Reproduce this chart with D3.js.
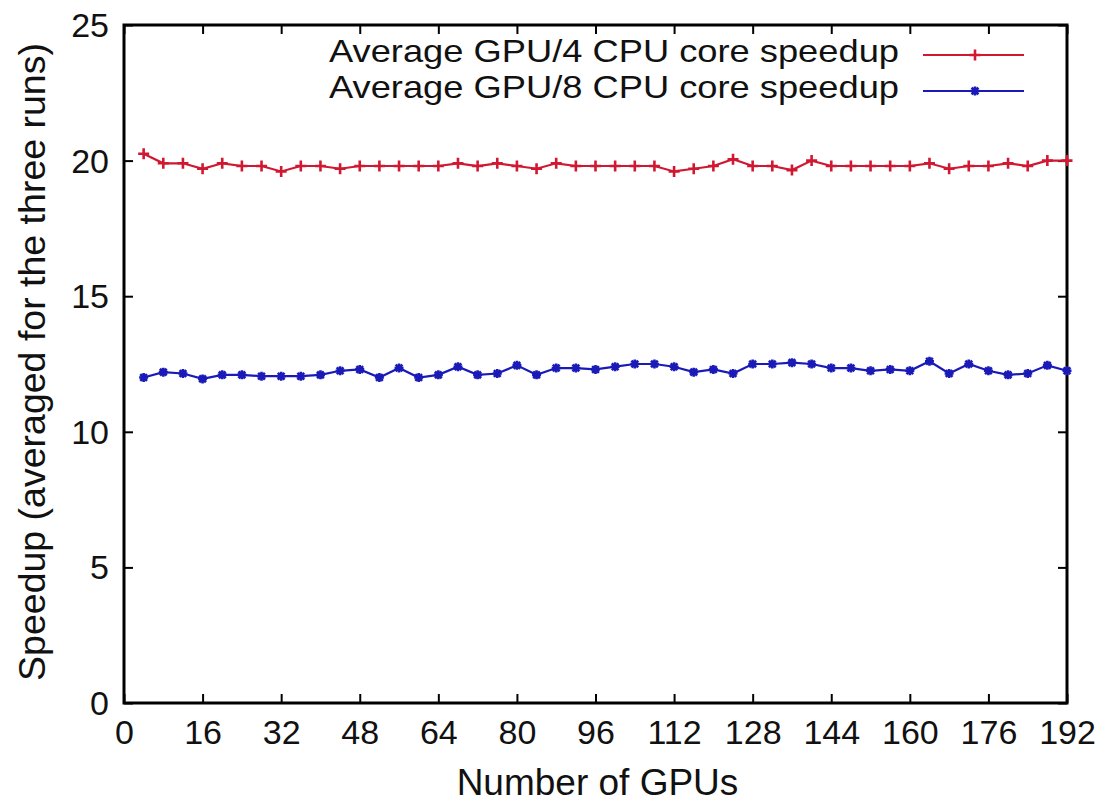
<!DOCTYPE html>
<html>
<head>
<meta charset="utf-8">
<script src="https://cdn.jsdelivr.net/npm/d3@7"></script>
<style>
  body { margin: 0; background: #fff; }
  text { font-family: "Liberation Sans", Arial, sans-serif; fill: #111; }
</style>
</head>
<body>
<svg id="chart" width="1105" height="804"></svg>
<script>
// Number of GPUs used in each run
const gpuCounts = [4, 8, 12, 16, 20, 24, 28, 32, 36, 40, 44, 48, 52, 56, 60, 64,
  68, 72, 76, 80, 84, 88, 92, 96, 100, 104, 108, 112, 116, 120, 124, 128,
  132, 136, 140, 144, 148, 152, 156, 160, 164, 168, 172, 176, 180, 184, 188, 192];

// Average GPU speedup over 4 CPU cores
const speedup4 = [20.25, 19.9, 19.9, 19.7, 19.9, 19.8, 19.8, 19.6, 19.8, 19.8, 19.7, 19.8,
  19.8, 19.8, 19.8, 19.8, 19.9, 19.8, 19.9, 19.8, 19.7, 19.9, 19.8, 19.8,
  19.8, 19.8, 19.8, 19.6, 19.7, 19.8, 20.05, 19.8, 19.8, 19.65, 20.0, 19.8,
  19.8, 19.8, 19.8, 19.8, 19.9, 19.7, 19.8, 19.8, 19.9, 19.8, 20.0, 20.0];

// Average GPU speedup over 8 CPU cores
const speedup8 = [12.0, 12.2, 12.15, 11.95, 12.1, 12.1, 12.05, 12.05, 12.05, 12.1, 12.25, 12.3,
  12.0, 12.35, 12.0, 12.1, 12.4, 12.1, 12.15, 12.45, 12.1, 12.35, 12.35, 12.3,
  12.4, 12.5, 12.5, 12.4, 12.2, 12.3, 12.15, 12.5, 12.5, 12.55, 12.5, 12.35,
  12.35, 12.25, 12.3, 12.25, 12.6, 12.15, 12.5, 12.25, 12.1, 12.15, 12.45, 12.25];

const seriesNames = ["Average GPU/4 CPU core speedup", "Average GPU/8 CPU core speedup"];
const xTickValues = [0, 16, 32, 48, 64, 80, 96, 112, 128, 144, 160, 176, 192];
const yTickValues = [0, 5, 10, 15, 20, 25];

const svg = d3.select("#chart");
const plot = { left: 124, right: 1067, top: 25, bottom: 703 };

const x = d3.scaleLinear().domain([0, 192]).range([plot.left, plot.right]);
const y = d3.scaleLinear().domain([0, 25]).range([plot.bottom, plot.top]);

const tickFont = 34;

// Bottom axis with labels, ticks pointing inward
const gx = svg.append("g")
  .attr("transform", `translate(0,${plot.bottom})`)
  .call(d3.axisBottom(x).tickValues(xTickValues).tickSize(-9).tickPadding(17));
// Mirrored top ticks
const gxTop = svg.append("g")
  .attr("transform", `translate(0,${plot.top})`)
  .call(d3.axisTop(x).tickValues(xTickValues).tickSize(-9).tickFormat(""));
// Left axis with labels
const gy = svg.append("g")
  .attr("transform", `translate(${plot.left},0)`)
  .call(d3.axisLeft(y).tickValues(yTickValues).tickSize(-9).tickPadding(15));
// Mirrored right ticks
const gyRight = svg.append("g")
  .attr("transform", `translate(${plot.right},0)`)
  .call(d3.axisRight(y).tickValues(yTickValues).tickSize(-9).tickFormat(""));

[gx, gxTop, gy, gyRight].forEach(g => {
  g.select(".domain").remove();
  g.selectAll(".tick line").attr("stroke", "#000").attr("stroke-width", 2);
  g.selectAll(".tick text")
    .style("font-family", '"Liberation Sans", Arial, sans-serif')
    .style("font-size", tickFont + "px")
    .attr("fill", "#222");
});
gy.selectAll(".tick text").attr("dy", "0.34em");

// Plot frame
svg.append("rect")
  .attr("x", plot.left).attr("y", plot.top)
  .attr("width", plot.right - plot.left)
  .attr("height", plot.bottom - plot.top)
  .attr("fill", "none").attr("stroke", "#000").attr("stroke-width", 3);

// Axis titles
svg.append("text")
  .attr("x", (plot.left + plot.right) / 2 + 2)
  .attr("y", 795)
  .attr("text-anchor", "middle")
  .style("font-size", "37px")
  .attr("fill", "#222")
  .text("Number of GPUs");

svg.append("text")
  .attr("transform", `translate(45,362) rotate(-90)`)
  .attr("text-anchor", "middle")
  .style("font-size", "37.5px")
  .attr("fill", "#222")
  .text("Speedup (averaged for the three runs)");

// Series
const red = "#d01832";
const blue = "#1a1ab8";

const plusPath = s => `M${-s},0H${s}M0,${-s}V${s}`;
const starPath = s => `M${-s},0H${s}M0,${-s}V${s}M${-s*0.75},${-s*0.75}L${s*0.75},${s*0.75}M${-s*0.75},${s*0.75}L${s*0.75},${-s*0.75}`;

const series = [
  { name: seriesNames[0], values: speedup4, color: red, marker: plusPath(5.5) },
  { name: seriesNames[1], values: speedup8, color: blue, marker: starPath(4.5) }
];

const line = d3.line()
  .x((d, i) => x(gpuCounts[i]))
  .y(d => y(d));

series.forEach(s => {
  const g = svg.append("g");
  g.append("path")
    .datum(s.values)
    .attr("d", line)
    .attr("fill", "none")
    .attr("stroke", s.color)
    .attr("stroke-width", 2.2);
  g.selectAll("path.marker")
    .data(s.values)
    .join("path")
    .attr("class", "marker")
    .attr("transform", (d, i) => `translate(${x(gpuCounts[i])},${y(d)})`)
    .attr("d", s.marker)
    .attr("fill", "none")
    .attr("stroke", s.color)
    .attr("stroke-width", 2.6);
});

// Legend: text is slightly wide-set, so it is stretched to a fixed length
const legend = svg.append("g");
const legendRows = [55, 91];
const legendBaselines = [62, 98];
series.forEach((s, i) => {
  const ly = legendRows[i];
  legend.append("text")
    .attr("x", 899)
    .attr("y", legendBaselines[i])
    .attr("text-anchor", "end")
    .attr("textLength", 570)
    .attr("lengthAdjust", "spacingAndGlyphs")
    .style("font-size", "30.5px")
    .attr("fill", "#222")
    .text(s.name);
  legend.append("line")
    .attr("x1", 923).attr("x2", 1024)
    .attr("y1", ly).attr("y2", ly)
    .attr("stroke", s.color).attr("stroke-width", 2.2);
  legend.append("path")
    .attr("transform", `translate(975,${ly})`)
    .attr("d", s.marker)
    .attr("fill", "none")
    .attr("stroke", s.color)
    .attr("stroke-width", 2.6);
});
</script>
</body>
</html>
